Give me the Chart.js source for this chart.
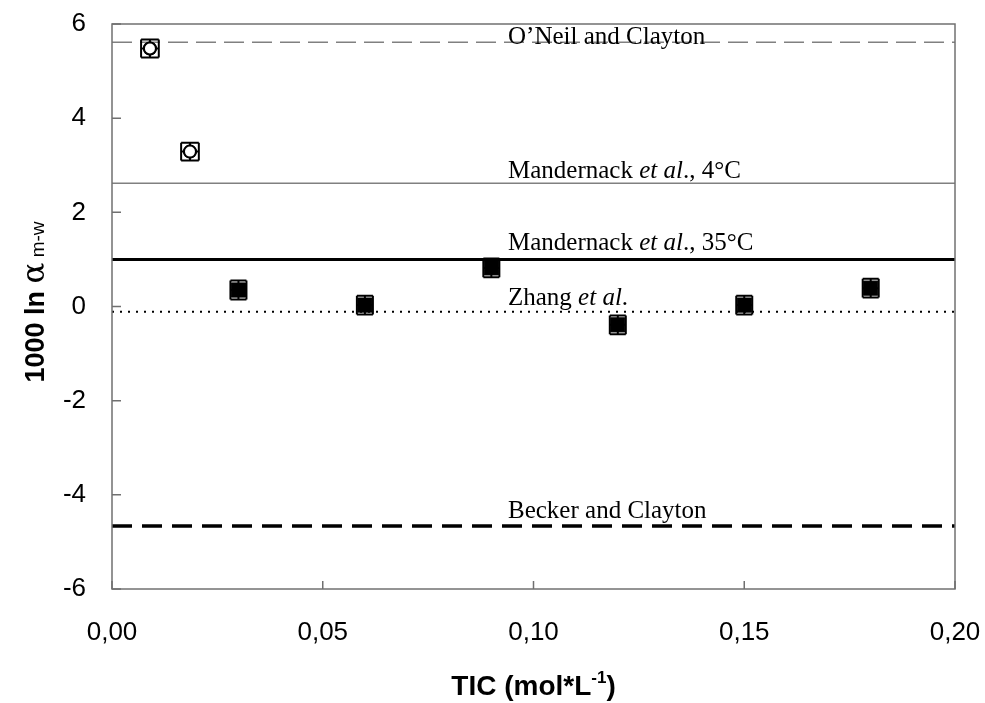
<!DOCTYPE html>
<html>
<head>
<meta charset="utf-8">
<script src="https://cdn.jsdelivr.net/npm/chart.js@4.4.0/dist/chart.umd.min.js"></script>
<style>
  body { margin: 0; background: #fff; }
  canvas { display: block; }
</style>
</head>
<body>
<canvas id="ticChart" width="985" height="703"></canvas>
<script>
// values
const openTic = [0.009, 0.0185];
const openAlpha = [5.48, 3.29];
const openTicErr = [0.0021, 0.0021];
const openAlphaErr = [0.19, 0.19];

const filledTic = [0.03, 0.06, 0.09, 0.12, 0.15, 0.18];
const filledAlpha = [0.35, 0.03, 0.82, -0.39, 0.03, 0.39];
const filledTicErr = [0.0019, 0.0019, 0.0019, 0.0019, 0.0019, 0.0019];
const filledAlphaErr = [0.2, 0.2, 0.2, 0.2, 0.2, 0.2];

// reference fractionation lines (*...* = italic)
const refNames = ['O\u2019Neil and Clayton', 'Mandernack *et al*., 4\u00b0C', 'Mandernack *et al*., 35\u00b0C', 'Zhang *et al*.', 'Becker and Clayton'];
const refValues = [5.61, 2.62, 1.00, -0.11, -4.66];

const xTicks = [0, 0.05, 0.10, 0.15, 0.20];
const yTicks = [-6, -4, -2, 0, 2, 4, 6];

// styles for the reference lines
const refStyles = [
    { color: '#808080', width: 1.5, dash: [20, 8], lift: -2 },
    { color: '#808080', width: 1.5, dash: [], lift: 5 },
    { color: '#000', width: 3, dash: [], lift: 9 },
    { color: '#000', width: 2, dash: [2, 6], lift: 7 },
    { color: '#000', width: 3.5, dash: [20, 10], lift: 8 }
];

const toPoints = (xs, ys) => xs.map((v, i) => ({ x: v, y: ys[i] }));

const refDatasets = refValues.map((v, i) => ({
    type: 'line',
    label: refNames[i],
    data: [{ x: xTicks[0], y: v }, { x: xTicks[xTicks.length - 1], y: v }],
    borderColor: refStyles[i].color,
    borderWidth: refStyles[i].width,
    borderDash: refStyles[i].dash,
    pointRadius: 0,
    fill: false,
    order: 2
}));

const drawSegments = (ctx, text, x, y, size) => {
    text.split('*').forEach((part, k) => {
        ctx.font = (k % 2 ? 'italic ' : '') + size + 'px "Liberation Serif", "Times New Roman", serif';
        ctx.fillText(part, x, y);
        x += ctx.measureText(part).width;
    });
};

const decorations = {
    id: 'decorations',
    afterDatasetsDraw(chart) {
        const { ctx, chartArea: a, scales: { x, y } } = chart;
        ctx.save();

        // error bars with caps
        chart.data.datasets.forEach(ds => {
            if (!ds.xErr) return;
            ds.data.forEach((p, j) => {
                const px = x.getPixelForValue(p.x);
                const py = y.getPixelForValue(p.y);
                const top = y.getPixelForValue(p.y + ds.yErr[j]);
                const bot = y.getPixelForValue(p.y - ds.yErr[j]);
                const lft = x.getPixelForValue(p.x - ds.xErr[j]);
                const rgt = x.getPixelForValue(p.x + ds.xErr[j]);
                const cw = (rgt - lft) / 2, ch = (bot - top) / 2;
                ctx.strokeStyle = '#000';
                ctx.lineWidth = 2;
                ctx.beginPath();
                ctx.moveTo(px, top); ctx.lineTo(px, bot);
                ctx.moveTo(lft, py); ctx.lineTo(rgt, py);
                ctx.moveTo(px - cw, top); ctx.lineTo(px + cw, top);
                ctx.moveTo(px - cw, bot); ctx.lineTo(px + cw, bot);
                ctx.moveTo(lft, py - ch); ctx.lineTo(lft, py + ch);
                ctx.moveTo(rgt, py - ch); ctx.lineTo(rgt, py + ch);
                ctx.stroke();
            });
        });

        // redraw open markers on top of their bars
        const openMeta = chart.getDatasetMeta(0);
        openMeta.data.forEach(el => {
            ctx.beginPath();
            ctx.arc(el.x, el.y, 6, 0, Math.PI * 2);
            ctx.fillStyle = '#fff';
            ctx.fill();
            ctx.lineWidth = 2;
            ctx.strokeStyle = '#000';
            ctx.stroke();
        });

        // line labels
        ctx.fillStyle = '#000';
        ctx.textAlign = 'left';
        ctx.textBaseline = 'alphabetic';
        refValues.forEach((v, i) => {
            drawSegments(ctx, refNames[i], 508, y.getPixelForValue(v) - refStyles[i].lift, 25);
        });

        // frame and inward ticks
        ctx.strokeStyle = '#707070';
        ctx.lineWidth = 1.5;
        ctx.setLineDash([]);
        ctx.strokeRect(a.left, a.top, a.right - a.left, a.bottom - a.top);
        ctx.beginPath();
        xTicks.forEach(t => {
            const px = x.getPixelForValue(t);
            ctx.moveTo(px, a.bottom); ctx.lineTo(px, a.bottom - 8);
        });
        yTicks.forEach(t => {
            const py = y.getPixelForValue(t);
            ctx.moveTo(a.left, py); ctx.lineTo(a.left + 9, py);
        });
        ctx.stroke();

        // axis titles
        ctx.fillStyle = '#000';
        const bold = '700 28px "Liberation Sans", Arial, sans-serif';
        const sup = '700 17px "Liberation Sans", Arial, sans-serif';
        ctx.font = bold;
        const w1 = ctx.measureText('TIC (mol*L').width;
        ctx.font = sup;
        const w2 = ctx.measureText('-1').width;
        ctx.font = bold;
        const w3 = ctx.measureText(')').width;
        let tx = (a.left + a.right) / 2 - (w1 + w2 + w3) / 2;
        const ty = 695;
        ctx.fillText('TIC (mol*L', tx, ty); tx += w1;
        ctx.font = sup; ctx.fillText('-1', tx, ty - 12); tx += w2;
        ctx.font = bold; ctx.fillText(')', tx, ty);

        ctx.translate(44, 302);
        ctx.rotate(-Math.PI / 2);
        const parts = [
            ['1000 ln ', '700 27px "Liberation Sans", Arial, sans-serif', 0],
            ['\u03b1', '31px "DejaVu Serif", serif', 0],
            [' m-w', '19px "Liberation Sans", Arial, sans-serif', 0]
        ];
        let total = 0;
        parts.forEach(p => { ctx.font = p[1]; total += ctx.measureText(p[0]).width; });
        let yx = -total / 2;
        parts.forEach(p => {
            ctx.font = p[1];
            ctx.fillText(p[0], yx, p[2]);
            yx += ctx.measureText(p[0]).width;
        });
        ctx.restore();
    }
};

const config = {
    data: {
        datasets: [
            {
                type: 'scatter',
                label: 'open',
                data: toPoints(openTic, openAlpha),
                xErr: openTicErr,
                yErr: openAlphaErr,
                pointStyle: 'circle',
                pointRadius: 6,
                backgroundColor: '#fff',
                borderColor: '#000',
                borderWidth: 2,
                order: 0
            },
            {
                type: 'scatter',
                label: 'filled',
                data: toPoints(filledTic, filledAlpha),
                xErr: filledTicErr,
                yErr: filledAlphaErr,
                pointStyle: 'rect',
                pointRadius: 10,
                backgroundColor: '#000',
                borderColor: '#000',
                borderWidth: 1,
                order: 0
            },
            ...refDatasets
        ]
    },
    options: {
        responsive: false,
        animation: false,
        layout: { padding: { top: 24, right: 30, left: 0, bottom: 0 } },
        plugins: {
            legend: { display: false },
            tooltip: { enabled: false }
        },
        scales: {
            x: {
                type: 'linear',
                min: 0,
                max: 0.2,
                afterBuildTicks: s => { s.ticks = xTicks.map(v => ({ value: v })); },
                afterFit: s => { s.height = 114; s.paddingLeft = 0; s.paddingRight = 0; },
                grid: { display: false, drawTicks: false },
                border: { display: false },
                ticks: {
                    padding: 28,
                    color: '#000',
                    font: { family: '"Liberation Sans", Arial, sans-serif', size: 26 },
                    callback: v => v.toFixed(2).replace('.', ',')
                }
            },
            y: {
                type: 'linear',
                min: -6,
                max: 6,
                afterBuildTicks: s => { s.ticks = yTicks.map(v => ({ value: v })); },
                afterFit: s => { s.width = 112; s.paddingTop = 0; s.paddingBottom = 0; },
                grid: { display: false, drawTicks: false },
                border: { display: false },
                ticks: {
                    padding: 26,
                    color: '#000',
                    font: { family: '"Liberation Sans", Arial, sans-serif', size: 26 },
                    callback: v => String(v)
                }
            }
        }
    },
    plugins: [decorations]
};

const myChart = new Chart(document.getElementById('ticChart'), config);
</script>
</body>
</html>
